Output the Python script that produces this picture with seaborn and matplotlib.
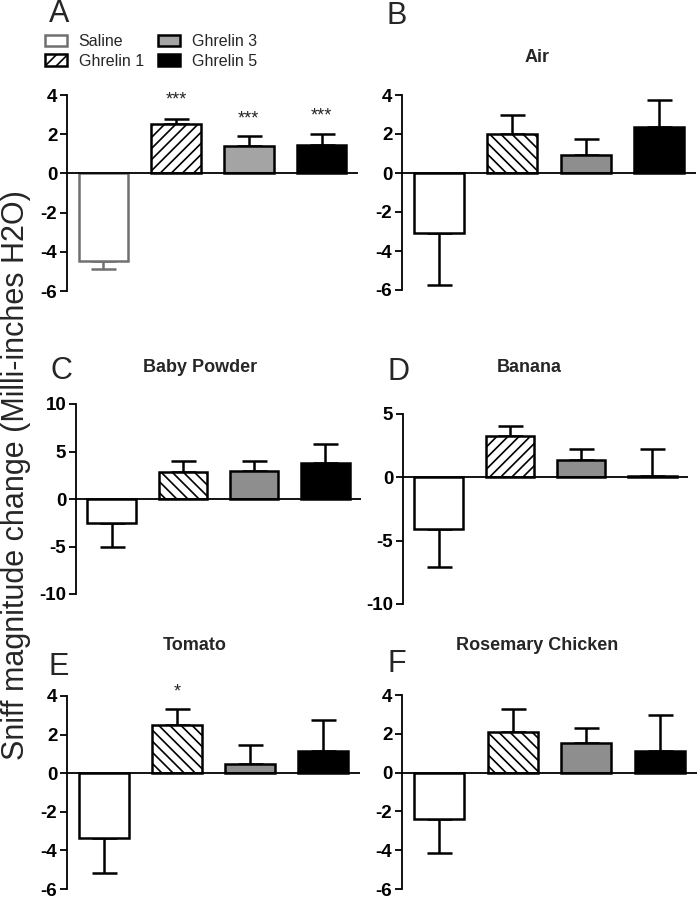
import matplotlib
matplotlib.use("Agg")
import matplotlib.pyplot as plt
from matplotlib.patches import Patch
import numpy as np
import pandas as pd
import seaborn as sns

sns.set_theme(style="white")
plt.rcParams["font.family"] = ["Liberation Sans", "DejaVu Sans"]
plt.rcParams["axes.unicode_minus"] = False
plt.rcParams["hatch.linewidth"] = 1.2

W, H = 697, 899

groups = ["Saline", "Ghrelin 1", "Ghrelin 3", "Ghrelin 5"]

# mean and SEM per odor panel
mean_a = [-4.46, 2.54, 1.42, 1.46]
sem_a = [0.42, 0.22, 0.47, 0.57]
mean_b = [-3.07, 2.01, 0.90, 2.36]
sem_b = [2.68, 0.95, 0.85, 1.38]
mean_c = [-2.49, 2.81, 2.91, 3.75]
sem_c = [2.53, 1.23, 1.05, 2.04]
mean_d = [-4.08, 3.29, 1.39, 0.08]
sem_d = [3.02, 0.79, 0.87, 2.18]
mean_e = [-3.38, 2.48, 0.48, 1.16]
sem_e = [1.80, 0.85, 0.97, 1.59]
mean_f = [-2.37, 2.11, 1.53, 1.11]
sem_f = [1.80, 1.16, 0.75, 1.85]

titles = ["", "Air", "Baby Powder", "Banana", "Tomato", "Rosemary Chicken"]
letters = ["A", "B", "C", "D", "E", "F"]
stars_a = ["", "***", "***", "***"]
stars_e = ["", "*", "", ""]
star_y_a = [0, 3.75, 2.77, 2.94]
star_y_e = [0, 4.22, 0, 0]

# pixel boxes: left, right, top, bottom
boxes = [(67, 358, 95, 291), (402, 696, 95, 290),
         (76, 361, 404, 594), (403, 688, 414, 604),
         (67, 360, 696, 889), (402, 697, 695, 889)]
ylims = [(-6, 4), (-6, 4), (-10, 10), (-10, 5), (-6, 4), (-6, 4)]
yticks = [np.arange(-6, 5, 2), np.arange(-6, 5, 2), [-10, -5, 0, 5, 10],
          [-10, -5, 0, 5], np.arange(-6, 5, 2), np.arange(-6, 5, 2)]
hatches = ["///", "\\\\\\", "\\\\\\", "///", "\\\\\\", "\\\\\\"]
title_pos = [None, (537, 57), (200, 367), (529, 367), (195, 645), (537, 645)]
letter_pos = [(59, 14), (397, 16), (61, 371), (398, 372), (59, 667), (397, 664)]

means = [mean_a, mean_b, mean_c, mean_d, mean_e, mean_f]
sems = [sem_a, sem_b, sem_c, sem_d, sem_e, sem_f]

fig = plt.figure(figsize=(W / 100, H / 100), dpi=100)

for i in range(6):
    l, r, t, b = boxes[i]
    ax = fig.add_axes([l / W, 1 - b / H, (r - l) / W, (b - t) / H])
    light = i == 0
    gray = "#a4a4a4" if light else "#8e8e8e"
    sal_edge = "#707070" if light else "black"
    pal = {"Saline": "white", "Ghrelin 1": "white", "Ghrelin 3": gray, "Ghrelin 5": "black"}
    df = pd.DataFrame({"group": groups, "mean": means[i], "sem": sems[i]})
    sns.barplot(data=df, x="group", y="mean", hue="group", palette=pal, saturation=1,
                width=0.68, edgecolor="black", linewidth=1.8, errorbar=None,
                legend=False, ax=ax, zorder=2)
    for j, p in enumerate(ax.patches):
        if j == 0:
            p.set_edgecolor(sal_edge)
        if j == 1:
            p.set_hatch(hatches[i])
    pos = np.arange(4)
    m = df["mean"].to_numpy()
    s = df["sem"].to_numpy()
    lower = np.where(m < 0, s, 0)
    upper = np.where(m >= 0, s, 0)
    for j in range(4):
        ec = sal_edge if j == 0 else "black"
        ax.errorbar(pos[j], m[j], yerr=[[lower[j]], [upper[j]]], fmt="none", ecolor=ec,
                    elinewidth=1.8, capsize=9, capthick=1.8, zorder=1)
    ax.axhline(0, color="black", lw=1.3, zorder=3)
    ax.set_xlim(-0.5, 3.5)
    ax.set_ylim(*ylims[i])
    ax.set_yticks(yticks[i])
    ax.set_xticks([])
    ax.set_xlabel("")
    ax.set_ylabel("")
    for sp in ["top", "right", "bottom"]:
        ax.spines[sp].set_visible(False)
    ax.spines["left"].set_linewidth(1.3)
    ax.spines["left"].set_color("black")
    ax.tick_params(axis="y", left=True, length=5, width=1.3, pad=2,
                   labelsize=13.5, colors="black")
    plt.setp(ax.get_yticklabels(), fontweight="bold")
    ax.set_facecolor("none")

    if i == 0:
        for j in range(4):
            if stars_a[j]:
                ax.text(pos[j], star_y_a[j], stars_a[j], ha="center", va="center", fontsize=13)
    if i == 4:
        for j in range(4):
            if stars_e[j]:
                ax.text(pos[j], star_y_e[j], stars_e[j], ha="center", va="center", fontsize=13)

    if title_pos[i]:
        fig.text(title_pos[i][0] / W, 1 - title_pos[i][1] / H, titles[i], ha="center",
                 va="center", fontsize=13, fontweight="bold")
    fig.text(letter_pos[i][0] / W, 1 - letter_pos[i][1] / H, letters[i], ha="center",
             va="center", fontsize=22)

handles = [Patch(facecolor="white", edgecolor="#707070", linewidth=1.8),
           Patch(facecolor="white", edgecolor="black", linewidth=1.8, hatch="///"),
           Patch(facecolor="#a4a4a4", edgecolor="black", linewidth=1.8),
           Patch(facecolor="black", edgecolor="black", linewidth=1.8)]
fig.legend(handles, groups, loc="upper left", bbox_to_anchor=(45 / W, 1 - 34 / H),
           bbox_transform=fig.transFigure, ncol=2, frameon=False, fontsize=11.5,
           handlelength=1.4, handleheight=0.75, handletextpad=0.7, columnspacing=0.9,
           labelspacing=0.3, borderpad=0, borderaxespad=0)

fig.text(16 / W, 1 - 475 / H, "Sniff magnitude change (Milli-inches H2O)", rotation=90,
         ha="center", va="center", fontsize=22)

fig.savefig("out.png", dpi=100)
